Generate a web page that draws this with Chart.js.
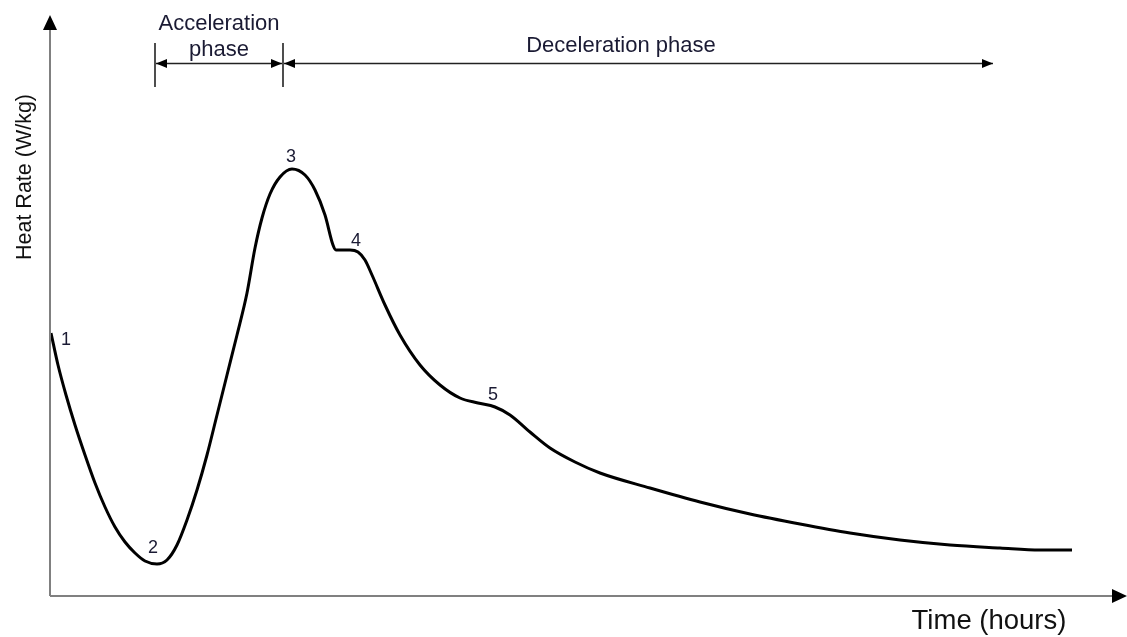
<!DOCTYPE html>
<html>
<head>
<meta charset="utf-8">
<script src="https://cdn.jsdelivr.net/npm/chart.js@4.4.1/dist/chart.umd.min.js"></script>
<style>
html,body{margin:0;padding:0;background:#fff;}
#wrap{width:1127px;height:637px;position:relative;}
</style>
</head>
<body>
<div id="wrap"><canvas id="c" width="1127" height="637"></canvas></div>
<script>
// Time (arbitrary hours units) and heat rate (arbitrary W/kg units)
const timeValues = [0.1,0.8,1.6,2.5,3.5,4.5,5.5,6.5,7.5,8.5,9.5,10.7,11.7,12.7,13.7,14.7,15.7,16.7,17.7,18.7,19.7,20.5,21.2,22,23,24.2,25.5,26.5,27.5,28.3,28.6,30,30.8,31.5,32.2,33.5,35,37,39,41,42.8,44.5,46,48,50,52.5,55,60,65,70,75,80,85,90,95,99,102.2];
const heatValues = [26.3,23.1,20.1,17.1,14.1,11.3,8.9,6.9,5.4,4.3,3.5,3.2,3.6,5.1,7.6,10.6,14.1,18.1,22.1,26.1,30.3,34.8,37.8,40.2,41.9,42.7,42.1,40.6,38.1,35.1,34.6,34.6,34.4,33.6,32.1,29.1,26.1,23.1,21.1,19.8,19.3,18.9,18.1,16.4,14.8,13.4,12.3,10.8,9.4,8.2,7.2,6.3,5.6,5.1,4.8,4.6,4.6];
// Numbered stages: index into the series
const stageLabels = ['1','2','3','4','5'];
const stageIndex = [0, 11, 25, 31, 40];
// Phases (time units)
const phaseNames = [['Acceleration','phase'], ['Deceleration phase']];
const phaseStart = [10.5, 23.3];
const phaseEnd = [23.3, 94.3];
const axisTitles = {x:'Time (hours)', y:'Heat Rate (W/kg)'};

const stageOffsets = [[15,7],[-4,-16],[-1,-12],[6,-9],[15,-8]];

const overlay = {
  id:'overlay',
  afterDatasetsDraw(chart){
    const ctx = chart.ctx;
    const xs = chart.scales.x, ys = chart.scales.y;
    const x0 = xs.getPixelForValue(0), y0 = ys.getPixelForValue(0);
    const yTop = ys.getPixelForValue(ys.max), xRight = xs.getPixelForValue(xs.max);
    ctx.save();
    // axes
    ctx.strokeStyle = '#808080'; ctx.lineWidth = 2;
    ctx.beginPath(); ctx.moveTo(x0, y0); ctx.lineTo(xRight-12, y0); ctx.stroke();
    ctx.beginPath(); ctx.moveTo(x0, y0); ctx.lineTo(x0, yTop+12); ctx.stroke();
    ctx.fillStyle = '#000';
    ctx.beginPath(); ctx.moveTo(xRight, y0); ctx.lineTo(xRight-15, y0-7); ctx.lineTo(xRight-15, y0+7); ctx.closePath(); ctx.fill();
    ctx.beginPath(); ctx.moveTo(x0, yTop); ctx.lineTo(x0-7, yTop+15); ctx.lineTo(x0+7, yTop+15); ctx.closePath(); ctx.fill();
    // axis titles
    ctx.fillStyle = '#111';
    ctx.font = '27.5px "Liberation Sans", Arial, sans-serif';
    ctx.textAlign = 'center'; ctx.textBaseline = 'middle';
    ctx.fillText(axisTitles.x, 989, 621);
    ctx.save();
    ctx.translate(25, 177); ctx.rotate(-Math.PI/2);
    ctx.font = '21.5px "Liberation Sans", Arial, sans-serif';
    ctx.fillText(axisTitles.y, 0, 0);
    ctx.restore();
    // stage labels
    ctx.font = '18px "Liberation Sans", Arial, sans-serif';
    ctx.fillStyle = '#1a1a33';
    stageLabels.forEach((lab,i)=>{
      const k = stageIndex[i];
      const px = xs.getPixelForValue(timeValues[k]), py = ys.getPixelForValue(heatValues[k]);
      ctx.fillText(lab, px+stageOffsets[i][0], py+stageOffsets[i][1]);
    });
    // phases
    const ay = 63.5;
    ctx.strokeStyle = '#222'; ctx.lineWidth = 1.6; ctx.fillStyle = '#000';
    const bars = [phaseStart[0], phaseStart[1]];
    bars.forEach(v=>{
      const px = xs.getPixelForValue(v);
      ctx.beginPath(); ctx.moveTo(px, 43); ctx.lineTo(px, 87); ctx.stroke();
    });
    function head(x, y, dir){
      ctx.beginPath(); ctx.moveTo(x, y); ctx.lineTo(x-dir*11, y-4.5); ctx.lineTo(x-dir*11, y+4.5); ctx.closePath(); ctx.fill();
    }
    phaseStart.forEach((s,i)=>{
      const a = xs.getPixelForValue(s)+1, b = xs.getPixelForValue(phaseEnd[i])-(i===0?1:0);
      ctx.beginPath(); ctx.moveTo(a, ay); ctx.lineTo(b, ay); ctx.stroke();
      head(a, ay, -1); head(b, ay, 1);
    });
    ctx.font = '22px "Liberation Sans", Arial, sans-serif';
    ctx.fillStyle = '#1a1a33';
    const cA = (xs.getPixelForValue(phaseStart[0])+xs.getPixelForValue(phaseEnd[0]))/2;
    ctx.fillText(phaseNames[0][0], cA, 24);
    ctx.fillText(phaseNames[0][1], cA, 50);
    ctx.fillText(phaseNames[1][0], 621, 46);
    ctx.restore();
  }
};

new Chart(document.getElementById('c'), {
  type:'line',
  data:{
    datasets:[{
      data: timeValues.map((t,i)=>({x:t, y:heatValues[i]})),
      borderColor:'#000', borderWidth:3, pointRadius:0, cubicInterpolationMode:'monotone', fill:false
    }]
  },
  options:{
    responsive:false, animation:false,
    layout:{padding:{left:50, top:15, right:0, bottom:41}},
    plugins:{legend:{display:false}, tooltip:{enabled:false}},
    scales:{
      x:{type:'linear', min:0, max:107.7, display:false},
      y:{min:0, max:58.1, display:false}
    }
  },
  plugins:[overlay]
});
</script>
</body>
</html>
